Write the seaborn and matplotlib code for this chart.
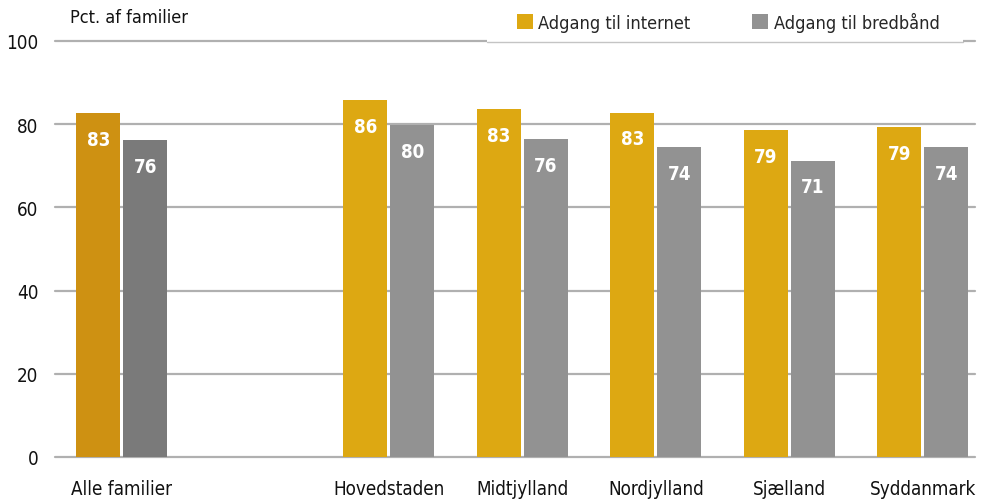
import matplotlib
matplotlib.use("Agg")
import matplotlib.pyplot as plt
import seaborn as sns
import pandas as pd
import numpy as np
from matplotlib.patches import Patch, Rectangle
from matplotlib.lines import Line2D

categories = ["Alle familier", "", "Hovedstaden", "Midtjylland", "Nordjylland", "Sjælland", "Syddanmark"]
internet = [82.6, np.nan, 85.8, 83.6, 82.7, 78.6, 79.3]
bredbaand = [76.2, np.nan, 79.8, 76.4, 74.5, 71.2, 74.5]
internet_labels = ["83", "", "86", "83", "83", "79", "79"]
bredbaand_labels = ["76", "", "80", "76", "74", "71", "74"]
series = ["Adgang til internet", "Adgang til bredbånd"]
yticks = [0, 20, 40, 60, 80, 100]

sns.set_theme(style="white")
plt.rcParams['font.family'] = ['DejaVu Sans']
plt.rcParams['font.stretch'] = 'condensed'

df = pd.DataFrame({
    "kategori": categories * 2,
    "serie": [series[0]] * len(categories) + [series[1]] * len(categories),
    "pct": internet + bredbaand,
})

gold, grey = "#DDA812", "#929292"
gold_dark, grey_dark = "#CE9112", "#7A7A7A"

fig = plt.figure(figsize=(9.81, 5.02), dpi=100)
ax = fig.add_axes([55/981, 44/502, 920/981, 416/502])

sns.barplot(data=df, x="kategori", y="pct", hue="serie", order=categories,
            hue_order=series, palette=[gold, grey], width=0.704, gap=0.064,
            legend=False, ax=ax, saturation=1, linewidth=0, edgecolor="none")

ax.set_ylim(0, 100)
ax.set_xlim(-0.5, 6.39)
ax.set_yticks(yticks)
ax.grid(axis="y", color="#B0B0B0", linewidth=1.6, zorder=0)
for gl in ax.get_ygridlines():
    gl.set_clip_on(False)
ax.set_axisbelow(True)
for s in ax.spines.values():
    s.set_visible(False)
ax.tick_params(axis="both", length=0, labelsize=13.5, colors="#111111")
ax.tick_params(axis="y", pad=12)
ax.tick_params(axis="x", pad=16)
ax.set_xlabel("")
ax.set_ylabel("")

# labels and darker colour for first group (map bars to categories by x position)
for container, vals, labs, dark in zip(ax.containers, [internet, bredbaand],
                                       [internet_labels, bredbaand_labels], [gold_dark, grey_dark]):
    for bar in container.patches:
        idx = int(round(bar.get_x() + bar.get_width()/2))
        h = bar.get_height()
        if np.isnan(h) or h == 0:
            continue
        if idx == 0:
            bar.set_facecolor(dark)
        lab = labs[idx]
        if lab:
            ax.annotate(lab, (bar.get_x() + bar.get_width()/2, h), xytext=(0, -26),
                        textcoords="offset pixels",
                        ha="center", va="center", color="white",
                        fontsize=13.5, fontweight="bold")

fig.text(70/981, 1 - 18/502, "Pct. af familier", fontsize=13, va="center", ha="left", color="#111111")

# legend box (white, covering the top gridline with a light bottom edge)
fig.add_artist(Rectangle((487/981, 1 - 42.5/502), (963-487)/981, 42.5/502,
                         transform=fig.transFigure, facecolor="white", edgecolor="none", zorder=5))
fig.add_artist(Line2D([487/981, 963/981], [1 - 42.5/502, 1 - 42.5/502],
                      transform=fig.transFigure, color="#C4C4C4", linewidth=1.0, zorder=6))

handles = [Patch(facecolor=gold, edgecolor="none"), Patch(facecolor=grey, edgecolor="none")]
leg = fig.legend(handles, series, loc="center", bbox_to_anchor=(728/981, 1 - 23/502), ncol=2,
                 frameon=False, fontsize=13, handlelength=0.9, handleheight=0.9,
                 handletextpad=0.3, columnspacing=3.4)
leg.set_zorder(7)

fig.savefig("out.png", dpi=100)
